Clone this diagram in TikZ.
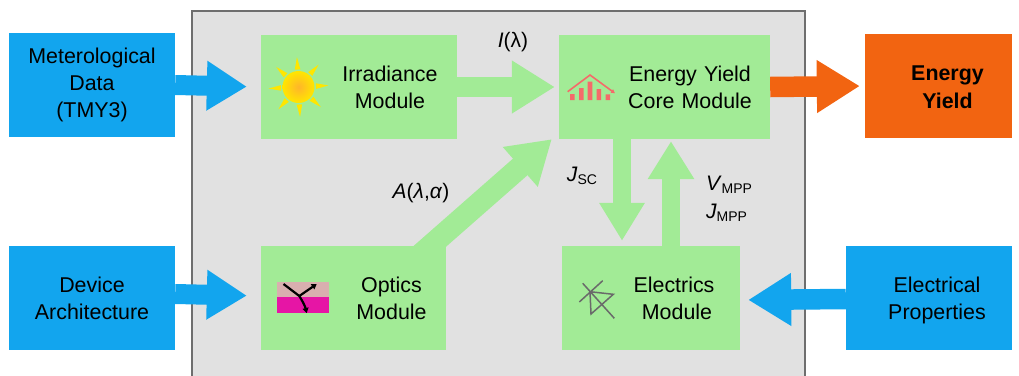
\documentclass[tikz,border=0pt]{standalone}
\usepackage{fontspec}
\setmainfont{Liberation Sans}
\usetikzlibrary{arrows.meta,calc}
\definecolor{bluebox}{HTML}{12A5EE}
\definecolor{greenbox}{HTML}{A2EB96}
\definecolor{orangebox}{HTML}{F26411}
\definecolor{panelgray}{HTML}{E1E1E1}
\definecolor{panelline}{HTML}{6E6E6E}
\definecolor{chartred}{HTML}{F56A6A}
\definecolor{sunray}{HTML}{FFE600}
\definecolor{suncore}{HTML}{FFB52A}
\definecolor{layertop}{HTML}{D9AFAF}
\definecolor{layerbot}{HTML}{E615A5}
\definecolor{elecgray}{HTML}{6A6A6A}
\tikzset{
  boxbase/.style={inner sep=0pt,minimum width=#1,text width=#1,align=center,minimum height=104pt,font=\fontsize{21.4}{27.3}\selectfont,text=black},
  bluenode/.style={boxbase=#1,fill=bluebox},
  greennode/.style={boxbase=#1,fill=greenbox},
  orangenode/.style={boxbase=#1,fill=orangebox},
  smallhead/.style={line width=20pt,-{Triangle[length=40pt,width=47pt]}},
  bighead/.style={line width=20.5pt,-{Triangle[length=43pt,width=50pt]}},
  lab/.style={inner sep=0pt,font=\fontsize{21}{25}\selectfont,align=center},
}
\newcommand{\subtxt}[1]{\raisebox{-3.2pt}{\fontsize{14}{14}\selectfont #1}}
\begin{document}
\begin{tikzpicture}[x=1pt,y=-1pt]
\useasboundingbox (0,0) rectangle (1019,375);
\begin{scope}
\clip (0,0) rectangle (1019,375);
\draw[draw=panelline,line width=2pt,fill=panelgray] (192,10.5) rectangle (805,395);
\end{scope}
\node[bluenode=166pt] (met) at (92,85) {Meterological\\Data\\(TMY3)};
\node[bluenode=166pt] (dev) at (92,298) {Device\\Architecture};
\node[bluenode=166pt] (eprop) at (929,298) {\hspace*{16pt}Electrical\\\hspace*{16pt}\smash{Properties}};
\node[orangenode=147pt] (yield) at (938.5,86) {\bfseries\rule{0pt}{17.5pt}\hspace*{18pt}Energy\\\bfseries\hspace*{18pt}Yield};
\node[greennode=196pt] (irr) at (359,87) {\hspace*{62pt}Irradiance\\\hspace*{62pt}Module};
\node[greennode=211pt] (core) at (664.5,87) {\hspace*{51pt}Energy Yield\\\hspace*{51pt}Core Module};
\node[greennode=185pt] (opt) at (353.5,298) {\hspace*{76pt}Optics\\\hspace*{76pt}Module};
\node[greennode=178pt] (ele) at (651,298) {\hspace*{46pt}Electrics\\\hspace*{52pt}Module};
% connectors
\draw[smallhead,draw=bluebox,shorten >=14pt] (met.east) -- (irr.west);
\draw[smallhead,draw=bluebox,shorten >=14pt] ([yshift=4pt]dev.east) -- ([yshift=2pt]opt.west);
\draw[bighead,draw=bluebox,shorten >=8pt] ([yshift=-1pt]eprop.west) -- ([yshift=-2pt]ele.east);
\draw[bighead,draw=greenbox,shorten >=4pt] (irr.east) -- (core.west);
\draw[bighead,draw=orangebox,shorten >=5pt] (core.east) -- (yield.west);
\coordinate (optout) at ($(opt.north east)+(-34,16)$);
\coordinate (corein) at ($(core.south west)+(-7,0)$);
\draw[line width=22pt,draw=greenbox,-{Triangle[length=42pt,width=50pt]}] (optout) -- (corein);
\draw[line width=18pt,draw=greenbox,-{Triangle[length=38pt,width=43pt]},shorten >=5pt] ([xshift=-42.5pt]core.south) -- ([xshift=-29pt]ele.north);
\draw[line width=18pt,draw=greenbox,-{Triangle[length=38pt,width=44pt]},shorten >=2pt] ([xshift=20pt]ele.north) -- ([xshift=6.5pt]core.south);
% labels
\node[lab] (li) at (513,42) {\textit{I}(λ)};
\node[lab] (la) at (421,193) {\textit{A}(\textit{λ},\textit{α})};
\node[lab] (lj) at (582,176) {\textit{J}\subtxt{SC}};
\node[lab] (lv) at (729,185) {\textit{V}\subtxt{MPP}};
\node[lab] (lm) at (726.5,213) {\textit{J}\subtxt{MPP}};
% sun
\foreach \a in {0,45,...,315}{
  \fill[sunray,shift={(298.5,87)},rotate=\a+3] (17.5,-2.8) -- (30,0) -- (17.5,2.8) -- cycle;
}
\shade[inner color=suncore,outer color=sunray] (298.5,87) circle (16pt);
% chart
\fill[chartred] (570,94) rectangle (574.5,100) (579,88) rectangle (583.7,100) (587.7,81.7) rectangle (592.3,100) (596.7,89) rectangle (601,100) (605.7,94.3) rectangle (610,100);
\draw[chartred,line width=1.6pt,-{Triangle[length=4pt,width=4pt]}] (567.7,91.7) -- (590,75) -- (615,93.3);
% optics icon
\fill[layertop] (277,282) rectangle (329,297);
\fill[layerbot] (277,297) rectangle (329,313);
\draw[black,line width=2.2pt] (283.5,284) -- (299.3,296);
\draw[black,line width=2.2pt,-{Triangle[length=5pt,width=6pt]}] (299.3,296) -- (316.7,284);
\draw[black,line width=2.2pt,-{Triangle[length=5pt,width=6pt]}] (299.3,296) .. controls (303,302) and (305,306) .. (306.7,313);
% electrics icon
\draw[elecgray,line width=1.5pt] (579.3,302) -- (602.7,280.7) (582.7,283.3) -- (614.3,318.3) (590,291.7) -- (591,314) -- (613.3,294.3) -- cycle;
\end{tikzpicture}
\end{document}
